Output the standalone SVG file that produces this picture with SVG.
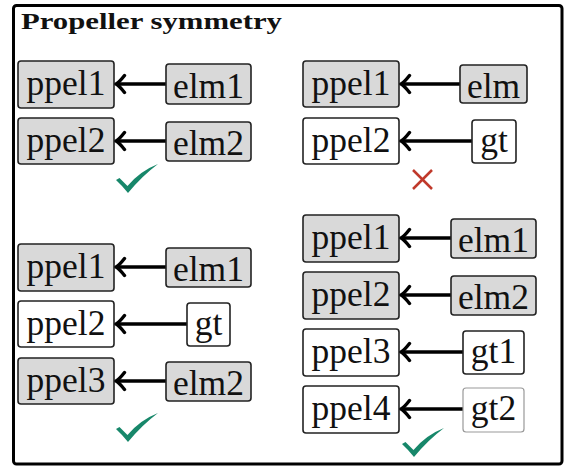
<svg xmlns="http://www.w3.org/2000/svg" width="566" height="467" viewBox="0 0 566 467">
<style>
.g rect{fill:#d9d9d9;stroke:#222;stroke-width:1.6}
.w rect{fill:#fff;stroke:#222;stroke-width:1.6}
.lt rect{fill:#fff;stroke:#999;stroke-width:1.2}
text.t{font-size:35.5px;fill:#111;text-anchor:middle}
.conn line{stroke:#000;stroke-width:3.4}
</style>
<defs>
<marker id="ah" markerUnits="userSpaceOnUse" markerWidth="14" markerHeight="22" viewBox="-12 -11 14 22" refX="0" refY="0" orient="auto">
<path d="M-8.5,-8.5 Q-3,-1.5 0,0 Q-3,1.5 -8.5,8.5" fill="none" stroke="#000" stroke-width="3.4" stroke-linecap="round"/>
</marker>
<path id="chk" d="M0,16 L3.5,14 Q7,17.5 11.5,22 Q24,7 42,0 Q26,12 12,29 Q6,21.5 0,16 Z" fill="#17876a"/>
</defs>
<rect x="13.5" y="5.5" width="548.5" height="458.5" rx="3" fill="#fff" stroke="#000" stroke-width="3"/>
<text x="21" y="29" font-family="Liberation Serif, DejaVu Serif, serif" font-weight="bold" font-size="24" textLength="261" lengthAdjust="spacingAndGlyphs" fill="#111">Propeller symmetry</text>

<g class="conn">
<line x1="166" y1="84" x2="116" y2="84" marker-end="url(#ah)"/>
<line x1="166" y1="141" x2="116" y2="141" marker-end="url(#ah)"/>
<line x1="460" y1="84" x2="401" y2="84" marker-end="url(#ah)"/>
<line x1="472" y1="141" x2="401" y2="141" marker-end="url(#ah)"/>
<line x1="166" y1="267" x2="116" y2="267" marker-end="url(#ah)"/>
<line x1="187" y1="324" x2="116" y2="324" marker-end="url(#ah)"/>
<line x1="166" y1="381" x2="116" y2="381" marker-end="url(#ah)"/>
<line x1="451" y1="238" x2="401" y2="238" marker-end="url(#ah)"/>
<line x1="451" y1="295" x2="401" y2="295" marker-end="url(#ah)"/>
<line x1="463" y1="352" x2="401" y2="352" marker-end="url(#ah)"/>
<line x1="463" y1="409" x2="401" y2="409" marker-end="url(#ah)"/>
</g>

<g font-family="Liberation Serif, DejaVu Serif, serif">
<!-- Panel 1 -->
<g id="p1-ppel1" class="g"><rect x="18" y="61" width="96" height="47" rx="3"/><text class="t" x="66" y="95">ppel1</text></g>
<g id="p1-elm1" class="g"><rect x="166" y="64" width="85" height="40" rx="3"/><text class="t" x="208.5" y="98">elm1</text></g>
<g id="p1-ppel2" class="g"><rect x="18" y="118" width="96" height="46" rx="3"/><text class="t" x="66" y="152">ppel2</text></g>
<g id="p1-elm2" class="g"><rect x="166" y="122" width="85" height="39" rx="3"/><text class="t" x="208.5" y="155">elm2</text></g>

<!-- Panel 2 -->
<g id="p2-ppel1" class="g"><rect x="303" y="61" width="96" height="46" rx="3"/><text class="t" x="351" y="95">ppel1</text></g>
<g id="p2-elm" class="g"><rect x="460" y="65" width="67" height="38" rx="3"/><text class="t" x="493.5" y="98">elm</text></g>
<g id="p2-ppel2" class="w"><rect x="303" y="118" width="96" height="46" rx="3"/><text class="t" x="351" y="152">ppel2</text></g>
<g id="p2-gt" class="w"><rect x="472" y="120" width="44" height="43" rx="3"/><text class="t" x="494" y="152">gt</text></g>

<!-- Panel 3 -->
<g id="p3-ppel1" class="g"><rect x="18" y="244" width="96" height="47" rx="3"/><text class="t" x="66" y="278">ppel1</text></g>
<g id="p3-elm1" class="g"><rect x="166" y="248" width="85" height="39" rx="3"/><text class="t" x="208.5" y="281">elm1</text></g>
<g id="p3-ppel2" class="w"><rect x="18" y="301" width="96" height="46" rx="3"/><text class="t" x="66" y="335">ppel2</text></g>
<g id="p3-gt" class="w"><rect x="187" y="303" width="43" height="43" rx="3"/><text class="t" x="208.5" y="335">gt</text></g>
<g id="p3-ppel3" class="g"><rect x="18" y="358" width="96" height="46" rx="3"/><text class="t" x="66" y="392">ppel3</text></g>
<g id="p3-elm2" class="g"><rect x="166" y="362" width="85" height="39" rx="3"/><text class="t" x="208.5" y="395">elm2</text></g>

<!-- Panel 4 -->
<g id="p4-ppel1" class="g"><rect x="303" y="215" width="96" height="47" rx="3"/><text class="t" x="351" y="249">ppel1</text></g>
<g id="p4-elm1" class="g"><rect x="451" y="219" width="85" height="39" rx="3"/><text class="t" x="493.5" y="252">elm1</text></g>
<g id="p4-ppel2" class="g"><rect x="303" y="272" width="96" height="47" rx="3"/><text class="t" x="351" y="306">ppel2</text></g>
<g id="p4-elm2" class="g"><rect x="451" y="276" width="85" height="39" rx="3"/><text class="t" x="493.5" y="309">elm2</text></g>
<g id="p4-ppel3" class="w"><rect x="303" y="329" width="96" height="47" rx="3"/><text class="t" x="351" y="363">ppel3</text></g>
<g id="p4-gt1" class="w"><rect x="463" y="331" width="61" height="43" rx="3"/><text class="t" x="493.5" y="363">gt1</text></g>
<g id="p4-ppel4" class="w"><rect x="303" y="386" width="96" height="47" rx="3"/><text class="t" x="351" y="420">ppel4</text></g>
<g id="p4-gt2" class="lt"><rect x="463" y="388" width="61" height="44" rx="3"/><text class="t" x="493.5" y="420">gt2</text></g>
</g>

<use id="p1-check" href="#chk" x="116" y="164"/>
<g id="p2-cross" stroke="#c0392b" stroke-width="2.5"><line x1="413" y1="170" x2="432" y2="189"/><line x1="432" y1="170" x2="413" y2="189"/></g>
<use id="p3-check" href="#chk" x="116" y="413"/>
<use id="p4-check" href="#chk" x="402" y="428"/>
</svg>
